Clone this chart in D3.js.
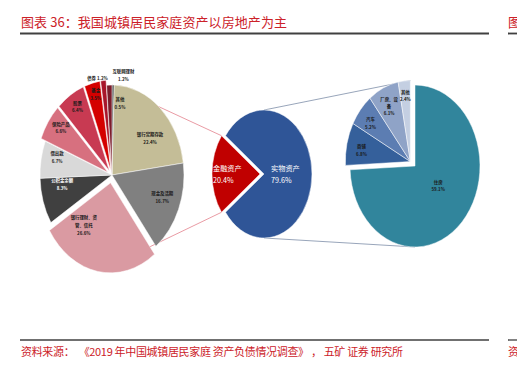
<!DOCTYPE html>
<html>
<head>
<meta charset="utf-8">
<script src="https://cdn.jsdelivr.net/npm/d3@7"></script>
<style>
  body { margin: 0; background: #fff; }
  svg { display: block; }
  text { font-family: "Noto Sans CJK SC", "Noto Sans", sans-serif; }
  .pre { white-space: pre; }
</style>
</head>
<body>
<svg id="chart" width="517" height="365"></svg>
<script>
// === DATA ===
// financial assets breakdown (% of financial assets)
const finCats = ["其他", "银行定期存款", "现金及活期", "银行理财、资管、信托", "公积金余额", "借出款", "保险产品", "股票", "基金", "债券", "互联网理财"];
const finVals = [0.5, 22.4, 16.7, 26.6, 8.3, 6.7, 6.6, 6.4, 3.5, 1.2, 1.2];
// total assets split
const totalCats = ["实物资产", "金融资产"];
const totalVals = [79.6, 20.4];
// real assets breakdown (% of total assets)
const realCats = ["住房", "商铺", "汽车", "厂房、设备", "其他"];
const realVals = [59.1, 6.8, 5.2, 6.1, 2.4];

// === STYLE / LAYOUT ===
const RED = "#cc2229";
const finColors = ["#3f3f3f", "#c4bd97", "#808080", "#da9aa2", "#404040", "#d9d9d9", "#d7707f", "#c83a52", "#d40000", "#a8152a", "#7b1c2b"];
const finExplode = [0, 0, 0, 8, 0, 0, 5, 5, 5, 5, 0];
// label placement: radius fraction, angle nudge (deg), wrap, colour
const finLabel = [
  {k: .81, dA: 7}, {k: .67, dA: 10}, {k: .74, dA: -3}, {k: .6, dA: 28, wrap: 6},
  {k: .7, dA: 8.5, fill: "#fff"}, {k: .79, dA: 5}, {k: .82, dA: 3.4}, {k: .84, dA: 1},
  {k: .87, dA: 1}, {k: 1.04, dA: -4.3, inline: true}, {k: 1.12, dA: 10.3}
];
const totalColors = ["#2f5597", "#c00000"];
const realColors = ["#31859c", "#35609b", "#5c7db2", "#8fa3c7", "#c4cfe2"];
const realLabel = [
  {k: .43, dA: -9.6}, {k: .765, dA: -1.9}, {k: .776, dA: -2}, {k: .76, dA: -.9, wrap: 4}, {k: .82, dA: 0}
];

const svg = d3.select("#chart");
const deg = Math.PI / 180;

const leftPie = {cx: 112, cy: 175, rx: 72, ry: 90};
const midPie = {cx: 264, cy: 174, rx: 48, ry: 64};
const rightPie = {cx: 415, cy: 166, rx: 65, ry: 81};

// arcs
const finArcs = d3.pie().sort(null)(finVals);
const sMid = 1.5 * Math.PI - 2 * Math.PI * (totalVals[0] + totalVals[1] / 2) / d3.sum(totalVals);
const totalArcs = d3.pie().sort(null).startAngle(sMid).endAngle(sMid + 2 * Math.PI)(totalVals);
const realArcs = d3.pie().sort(null)(realVals);

const midA = d => (d.startAngle + d.endAngle) / 2;
const dirOff = (a, off) => [off * Math.sin(a), -off * Math.cos(a)];

const finOff = finArcs.map((d, i) => dirOff(midA(d), finExplode[i]));
const totalOff = totalArcs.map((d, i) => dirOff(midA(d), i === 1 ? 4 : 0));
const groupMid = (realArcs[1].startAngle + realArcs[4].endAngle) / 2;
const realOff = realArcs.map((d, i) => i === 0 ? [0, 0] : dirOff(groupMid, 6.4));

function ellPt(p, a, k, off) {
  return [p.cx + off[0] + k * p.rx * Math.sin(a), p.cy + off[1] - k * p.ry * Math.cos(a)];
}

// === CONNECTOR LINES ===
const conn = svg.append("g").attr("fill", "none");
const redTop = ellPt(midPie, totalArcs[1].endAngle, 1, totalOff[1]);
const redBot = ellPt(midPie, totalArcs[1].startAngle, 1, totalOff[1]);
conn.append("line")
  .attr("x1", leftPie.cx).attr("y1", leftPie.cy - leftPie.ry)
  .attr("x2", redTop[0]).attr("y2", redTop[1])
  .attr("stroke", "#e0707c").attr("stroke-width", 0.7);
conn.append("line")
  .attr("x1", leftPie.cx).attr("y1", leftPie.cy + leftPie.ry)
  .attr("x2", redBot[0]).attr("y2", redBot[1])
  .attr("stroke", "#e0707c").attr("stroke-width", 0.7);
const grpTop = ellPt(rightPie, 0, 1, realOff[4]);
conn.append("line")
  .attr("x1", midPie.cx).attr("y1", midPie.cy - midPie.ry)
  .attr("x2", grpTop[0]).attr("y2", grpTop[1])
  .attr("stroke", "#7d8ea8").attr("stroke-width", 0.8);
conn.append("line")
  .attr("x1", midPie.cx).attr("y1", midPie.cy + midPie.ry)
  .attr("x2", rightPie.cx).attr("y2", rightPie.cy + rightPie.ry)
  .attr("stroke", "#7d8ea8").attr("stroke-width", 0.8);

// === PIES ===
const unitArc = d3.arc().innerRadius(0).outerRadius(1);

function drawPie(p, arcs, colors, offs) {
  const g = svg.append("g");
  g.selectAll("path")
    .data(arcs)
    .join("path")
    .attr("transform", (d, i) => `translate(${p.cx + offs[i][0]},${p.cy + offs[i][1]}) scale(${p.rx},${p.ry})`)
    .attr("d", unitArc)
    .attr("fill", (d, i) => colors[i])
    .attr("stroke", "#fff")
    .attr("stroke-width", 0.5)
    .attr("vector-effect", "non-scaling-stroke");
}

drawPie(leftPie, finArcs, finColors, finOff);
drawPie(midPie, totalArcs, totalColors, totalOff);
drawPie(rightPie, realArcs, realColors, realOff);

// === LABELS ===
function wrapText(s, n) {
  if (!n) return [s];
  const out = [];
  for (let i = 0; i < s.length; i += n) out.push(s.slice(i, i + n));
  return out;
}

function drawLabels(p, arcs, cats, vals, layout, offs, size, lh) {
  const g = svg.append("g").attr("font-size", size).attr("font-weight", "bold");
  arcs.forEach((d, i) => {
    const L = layout[i];
    const pt = ellPt(p, midA(d) + L.dA * deg, L.k, offs[i]);
    const val = vals[i].toFixed(1) + "%";
    const lines = L.inline ? [cats[i] + " " + val] : wrapText(cats[i], L.wrap).concat([val]);
    const t = g.append("text")
      .attr("x", pt[0]).attr("y", pt[1] - (lines.length - 1) * lh / 2)
      .attr("text-anchor", "middle")
      .attr("dominant-baseline", "central")
      .attr("fill", L.fill || "#1a1a1a");
    lines.forEach((ln, j) => {
      t.append("tspan").attr("x", pt[0]).attr("dy", j === 0 ? 0 : lh).text(ln);
    });
  });
}

drawLabels(leftPie, finArcs, finCats, finVals, finLabel, finOff, 4.4, 7.8);
drawLabels(rightPie, realArcs, realCats, realVals, realLabel, realOff, 4.4, 7.2);

// middle pie labels (left aligned, white)
const midLabel = [{k: .146}, {k: .98}];
totalArcs.forEach((d, i) => {
  const pt = ellPt(midPie, midA(d), midLabel[i].k, totalOff[i]);
  const t = svg.append("text")
    .attr("x", pt[0]).attr("y", pt[1] - 6)
    .attr("font-size", 7.2)
    .attr("fill", "#fff")
    .attr("dominant-baseline", "central");
  t.append("tspan").attr("x", pt[0]).text(totalCats[i]);
  t.append("tspan").attr("x", pt[0]).attr("dy", 12).text(totalVals[i].toFixed(1) + "%");
});

// === TITLE / FOOTER ===
svg.append("text").attr("x", 21).attr("y", 27)
  .attr("font-size", 13).attr("fill", RED)
  .attr("textLength", 266).attr("lengthAdjust", "spacing")
  .text("图表 36：我国城镇居民家庭资产以房地产为主");
svg.append("text").attr("x", 508).attr("y", 27)
  .attr("font-size", 13).attr("fill", RED).text("图");
svg.append("line").attr("x1", 20).attr("x2", 489).attr("y1", 33.5).attr("y2", 33.5)
  .attr("stroke", "#404040").attr("stroke-width", 1.8);
svg.append("line").attr("x1", 508).attr("x2", 517).attr("y1", 33.5).attr("y2", 33.5)
  .attr("stroke", "#404040").attr("stroke-width", 1.8);

svg.append("line").attr("x1", 20).attr("x2", 489).attr("y1", 340).attr("y2", 340)
  .attr("stroke", "#404040").attr("stroke-width", 1.3);
svg.append("line").attr("x1", 508).attr("x2", 517).attr("y1", 340).attr("y2", 340)
  .attr("stroke", "#404040").attr("stroke-width", 1.3);
svg.append("text").attr("class", "pre").attr("x", 21).attr("y", 356)
  .attr("font-size", 11).attr("fill", RED)
  .attr("textLength", 382).attr("lengthAdjust", "spacing")
  .text("资料来源：  《2019 年中国城镇居民家庭 资产负债情况调查》 ， 五矿 证券 研究所");
svg.append("text").attr("x", 508).attr("y", 356)
  .attr("font-size", 11).attr("fill", RED).text("资");
</script>
</body>
</html>
